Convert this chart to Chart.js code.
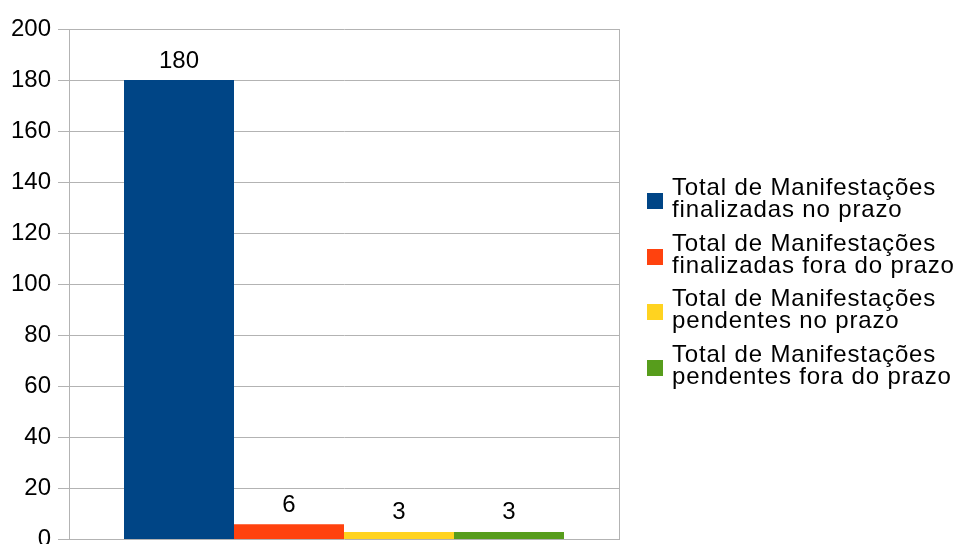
<!DOCTYPE html>
<html>
<head>
<meta charset="utf-8">
<script src="https://cdn.jsdelivr.net/npm/chart.js@4"></script>
<style>
  html, body { margin: 0; padding: 0; background: #fff; overflow: hidden; }
  #wrap { position: relative; width: 956px; height: 561px; }
  #legend { position: absolute; left: 647px; top: 176px; font-family: "Liberation Sans", Arial, sans-serif;
            font-size: 24px; color: #000; letter-spacing: 0.85px; }
  .item { position: relative; height: 44px; margin-bottom: 11.5px; padding-left: 25px;
          line-height: 22px; white-space: pre; }
  .box { position: absolute; left: 0; top: 17px; width: 16px; height: 16px; }
</style>
</head>
<body>
<div id="wrap">
  <canvas id="chart"></canvas>
  <div id="legend"></div>
</div>
<script>
/* ===== DADOS ===== */
const categories = [""];
const seriesNames = [
  "Total de Manifestações\nfinalizadas no prazo",
  "Total de Manifestações\nfinalizadas fora do prazo",
  "Total de Manifestações\npendentes no prazo",
  "Total de Manifestações\npendentes fora do prazo"
];
const seriesValues = [180, 6, 3, 3];
const seriesColors = ["#004586", "#ff420e", "#ffd320", "#579d1c"];
const yTicks = { min: 0, max: 200, step: 20 };

const FONT = "'Liberation Sans', Arial, sans-serif";

/* ===== RÓTULOS DE VALOR ===== */
const valueLabels = {
  id: "valueLabels",
  afterDatasetsDraw(chart) {
    const ctx = chart.ctx;
    ctx.save();
    ctx.font = "24px " + FONT;
    ctx.fillStyle = "#000";
    ctx.textAlign = "center";
    ctx.textBaseline = "alphabetic";
    chart.data.datasets.forEach((ds, i) => {
      chart.getDatasetMeta(i).data.forEach((bar, j) => {
        ctx.fillText(String(ds.data[j]), bar.x, bar.y - 12.5);
      });
    });
    ctx.restore();
  }
};

new Chart(document.getElementById("chart"), {
  type: "bar",
  data: {
    labels: categories,
    datasets: seriesNames.map((name, i) => ({
      label: name,
      data: [seriesValues[i]],
      backgroundColor: seriesColors[i],
      borderWidth: 0,
      categoryPercentage: 0.8,
      barPercentage: 1
    }))
  },
  options: {
    responsive: true,
    maintainAspectRatio: false,
    animation: false,
    layout: { padding: { top: 29, right: 337, bottom: 7, left: 0 } },
    plugins: { legend: { display: false }, tooltip: { enabled: false } },
    scales: {
      x: {
        grid: { color: "#b3b3b3", lineWidth: 1, offset: true, drawTicks: false },
        border: { display: false },
        ticks: { display: false }
      },
      y: {
        min: yTicks.min,
        max: yTicks.max,
        afterFit(scale) { scale.width = 69; },
        grid: { color: "#b3b3b3", lineWidth: 1, tickLength: 11 },
        border: { color: "#b3b3b3" },
        ticks: {
          stepSize: yTicks.step,
          padding: 7,
          color: "#000",
          font: { family: FONT, size: 24 }
        }
      }
    }
  },
  plugins: [valueLabels]
});

/* ===== LEGENDA ===== */
const legend = document.getElementById("legend");
seriesNames.forEach((name, i) => {
  const item = document.createElement("div");
  item.className = "item";
  const box = document.createElement("span");
  box.className = "box";
  box.style.background = seriesColors[i];
  item.appendChild(box);
  item.appendChild(document.createTextNode(name));
  legend.appendChild(item);
});
</script>
</body>
</html>
